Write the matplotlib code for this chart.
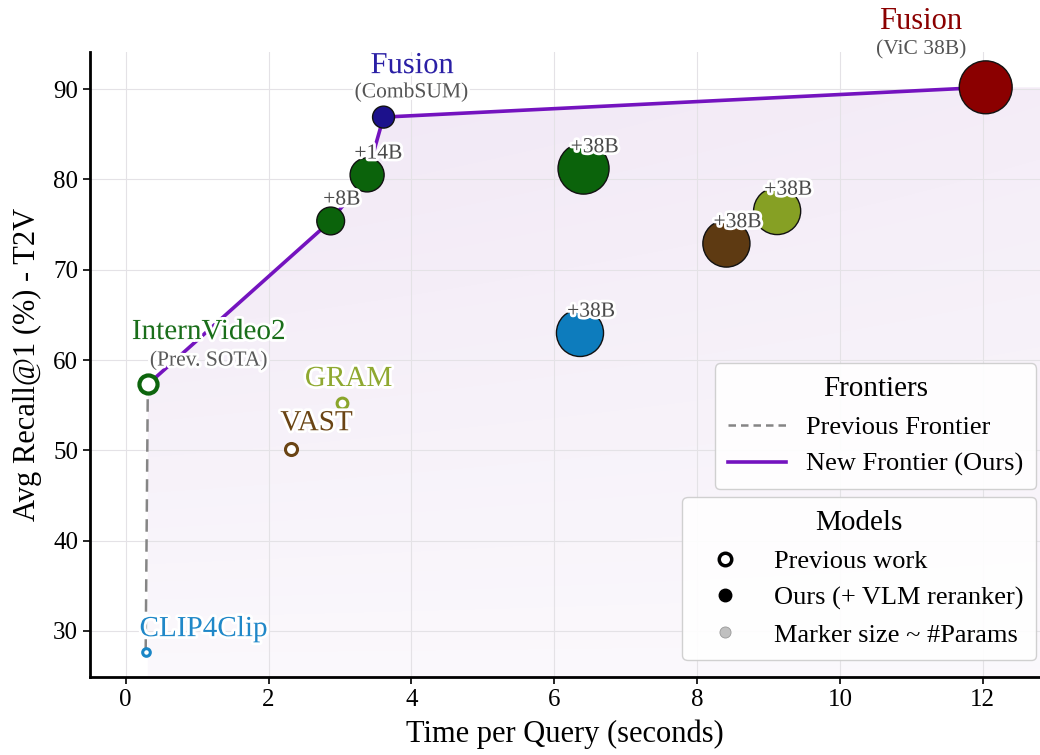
import matplotlib
matplotlib.use("Agg")
import matplotlib.pyplot as plt
import matplotlib.patheffects as pe
from matplotlib.lines import Line2D
from matplotlib.patches import Polygon
import numpy as np

plt.rcParams['font.family'] = ['Liberation Serif', 'DejaVu Serif']

# ---- data ----
prev_names = ["CLIP4Clip", "InternVideo2", "VAST", "GRAM"]
prev_time = [0.28, 0.31, 2.32, 3.03]
prev_recall = [27.7, 57.3, 50.2, 55.2]
prev_size = [30, 170, 75, 60]
prev_colors = ["#1a86c6", "#0d650d", "#6a4414", "#8aa52a"]

ours_labels = ["+8B", "+14B", "Fusion", "+38B", "+38B", "+38B", "+38B", "Fusion"]
ours_time = [2.87, 3.38, 3.61, 6.41, 6.36, 8.41, 9.12, 12.04]
ours_recall = [75.4, 80.5, 86.9, 81.2, 63.0, 72.9, 76.5, 90.2]
ours_size = [400, 600, 250, 1350, 1150, 1150, 1150, 1450]
ours_colors = ["#0b630b", "#0b630b", "#1c118c", "#0b630b", "#0d7cbd",
               "#5e3a12", "#86a024", "#8b0000"]

new_frontier_time = [0.31, 2.87, 3.38, 3.61, 12.04]
new_frontier_recall = [57.3, 75.4, 80.5, 86.9, 90.2]
prev_frontier_time = [0.28, 0.31]
prev_frontier_recall = [27.7, 57.3]

fig = plt.figure(figsize=(10.4, 7.55), dpi=100)
ax = fig.add_axes([0.0865, 0.1033, 0.9135, 0.8277])
xmin, xmax, ymin, ymax = -0.5, 12.8, 24.9, 94.1
ax.set_xlim(xmin, xmax)
ax.set_ylim(ymin, ymax)

# shaded region under new frontier
poly_x = list(new_frontier_time) + [xmax, xmax, new_frontier_time[0]]
poly_y = list(new_frontier_recall) + [new_frontier_recall[-1], ymin, ymin]
poly = Polygon(np.column_stack([poly_x, poly_y]), closed=True,
               facecolor='none', edgecolor='none', transform=ax.transData)
ax.add_patch(poly)
ny, nx = 200, 300
yy, xx = np.mgrid[0:1:ny*1j, 0:1:nx*1j]
alpha = 0.05 + 0.14 * yy * (1 - 0.35 * xx)
img = np.zeros((ny, nx, 4))
img[..., 0] = 0.68
img[..., 1] = 0.47
img[..., 2] = 0.78
img[..., 3] = alpha
im = ax.imshow(img, extent=[xmin, xmax, ymin, ymax], origin='lower',
               aspect='auto', zorder=0, interpolation='bilinear')
im.set_clip_path(poly)

ax.grid(True, color='#e4e2e6', linewidth=0.8, zorder=0.5)
ax.set_axisbelow(True)

# frontiers
ax.plot(prev_frontier_time, prev_frontier_recall, linestyle=(0, (5, 3)),
        color='#858585', linewidth=1.8, zorder=2)
ax.plot(new_frontier_time, new_frontier_recall, color='#7413bf',
        linewidth=2.6, zorder=2)

# previous work (open markers)
for t, r, s, c in zip(prev_time, prev_recall, prev_size, prev_colors):
    lw = 3.0 if s > 100 else 2.2
    ax.scatter([t], [r], s=s, facecolors='white', edgecolors=c,
               linewidths=lw, zorder=4)

# ours (filled)
ax.scatter(ours_time, ours_recall, s=ours_size, c=ours_colors,
           edgecolors='#111111', linewidths=1.0, zorder=4)

stroke = [pe.withStroke(linewidth=4, foreground='white')]

# +XB labels
for lab, t, r in zip(ours_labels, ours_time, ours_recall):
    if lab.startswith('+'):
        ax.annotate(lab, (t, r), xytext=(8, 15), textcoords='offset points',
                    ha='center', va='center', fontsize=15.5, color='#4a4a4a',
                    path_effects=stroke, zorder=5)

# model name labels
ax.text(1.16, 63.1, "InternVideo2", color='#1a6e1a', fontsize=21,
        ha='center', va='center', path_effects=stroke, zorder=5)
ax.text(1.16, 59.9, "(Prev. SOTA)", color='#5a5a5a', fontsize=15.5,
        ha='center', va='center', path_effects=stroke, zorder=5)
ax.text(3.12, 57.9, "GRAM", color='#8fa830', fontsize=21,
        ha='center', va='center', path_effects=stroke, zorder=5)
ax.text(2.67, 53.0, "VAST", color='#6a4414', fontsize=21,
        ha='center', va='center', path_effects=stroke, zorder=5)
ax.text(1.09, 30.2, "CLIP4Clip", color='#2088c8', fontsize=21,
        ha='center', va='center', path_effects=stroke, zorder=5)
ax.text(4.01, 92.6, "Fusion", color='#2a1fa5', fontsize=22,
        ha='center', va='center', path_effects=stroke, zorder=5)
ax.text(4.0, 89.6, "(CombSUM)", color='#555555', fontsize=15.5,
        ha='center', va='center', path_effects=stroke, zorder=5)
ax.text(11.13, 97.5, "Fusion", color='#8b0000', fontsize=22,
        ha='center', va='center', clip_on=False, zorder=5)
ax.text(11.13, 94.35, "(ViC 38B)", color='#555555', fontsize=15.5,
        ha='center', va='center', clip_on=False, zorder=5)

# axes styling
for side in ['top', 'right']:
    ax.spines[side].set_visible(False)
for side in ['left', 'bottom']:
    ax.spines[side].set_linewidth(2.0)
    ax.spines[side].set_color('black')
ax.set_xticks([0, 2, 4, 6, 8, 10, 12])
ax.set_yticks([30, 40, 50, 60, 70, 80, 90])
ax.tick_params(axis='both', labelsize=18, length=5, width=1.2, direction='out')
ax.set_xlabel("Time per Query (seconds)", fontsize=22, labelpad=6)
ax.set_ylabel("Avg Recall@1 (%) - T2V", fontsize=22, labelpad=8)

# legends
fr_handles = [
    Line2D([0], [0], color='#858585', linestyle=(0, (3, 2)), linewidth=1.8),
    Line2D([0], [0], color='#7413bf', linewidth=2.6),
]
leg1 = ax.legend(fr_handles, ["Previous Frontier", "New Frontier (Ours)"],
                 title="Frontiers", loc='upper right',
                 bbox_to_anchor=(0.996, 0.502), fontsize=19, title_fontsize=21,
                 frameon=True, framealpha=0.9, edgecolor='#cccccc',
                 handlelength=2.2, handletextpad=0.75, borderpad=0.5,
                 labelspacing=0.5, borderaxespad=0)
ax.add_artist(leg1)

md_handles = [
    Line2D([0], [0], marker='o', linestyle='none', markerfacecolor='white',
           markeredgecolor='black', markersize=9, markeredgewidth=2.5),
    Line2D([0], [0], marker='o', linestyle='none', markerfacecolor='black',
           markeredgecolor='black', markersize=9),
    Line2D([0], [0], marker='o', linestyle='none', markerfacecolor='#c0c0c0',
           markeredgecolor='#999999', markersize=8, markeredgewidth=0.6),
]
leg2 = ax.legend(md_handles, ["Previous work", "Ours (+ VLM reranker)",
                              "Marker size ~ #Params"],
                 title="Models", loc='upper right',
                 bbox_to_anchor=(0.996, 0.288), fontsize=19, title_fontsize=21,
                 frameon=True, framealpha=0.9, edgecolor='#cccccc',
                 handlelength=2.2, handletextpad=0.75, borderpad=0.5,
                 labelspacing=0.5, borderaxespad=0)

fig.savefig("out.png", dpi=100)
